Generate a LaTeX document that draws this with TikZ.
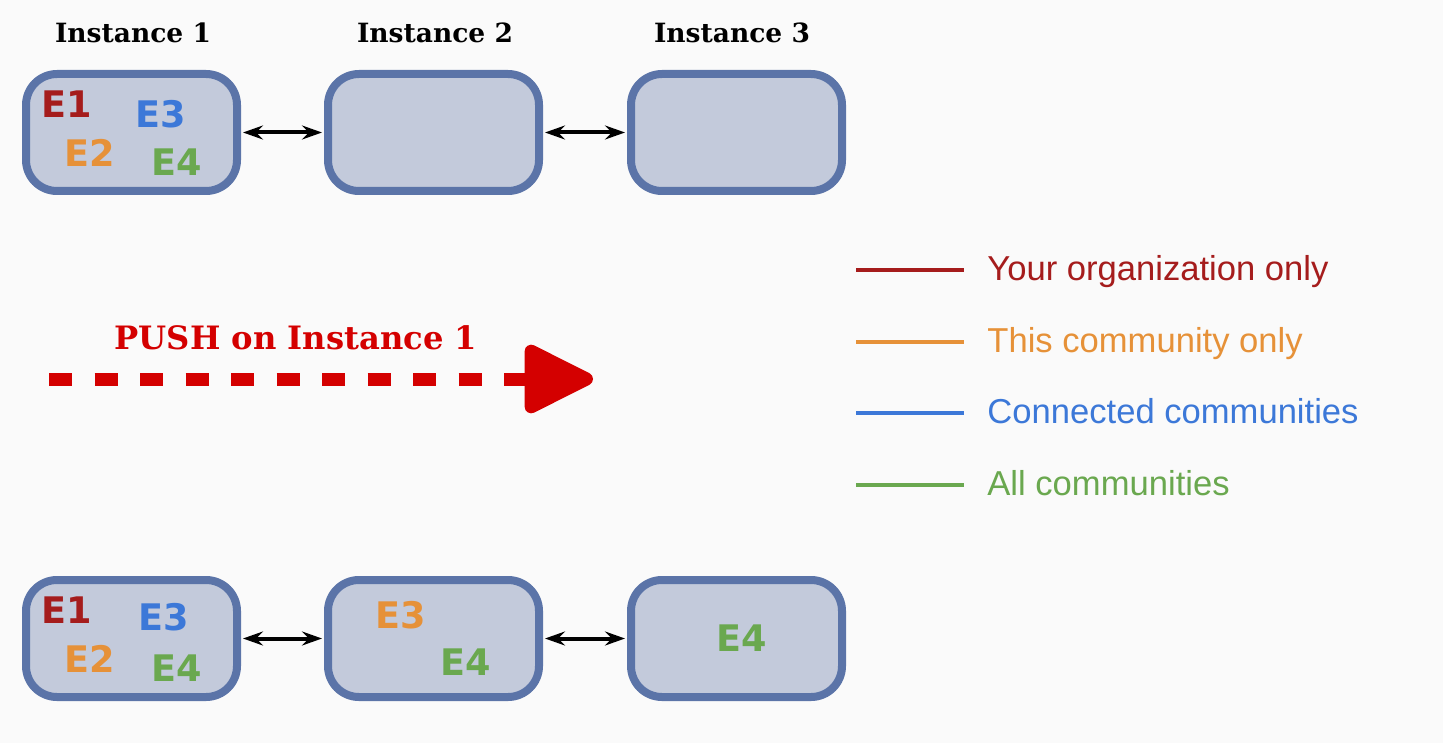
\documentclass[tikz,border=0pt]{standalone}
\usepackage{fontspec}
\usepackage{tikz}
\usetikzlibrary{arrows.meta}
\newfontfamily\titleserif{DejaVu Serif}
\newfontfamily\entsans{DejaVu Sans}
\newfontfamily\legendsans{Liberation Sans}
\definecolor{boxfill}{HTML}{C3CADB}
\definecolor{boxline}{HTML}{5B74A8}
\definecolor{eorg}{HTML}{A51C1C}
\definecolor{ecomm}{HTML}{E69138}
\definecolor{econn}{HTML}{3C78D8}
\definecolor{eall}{HTML}{6AA84F}
\definecolor{pushred}{HTML}{D40000}
\definecolor{bgcol}{HTML}{FAFAFA}

\begin{document}
\begin{tikzpicture}[x=0.5pt,y=-0.5pt,
  inst/.style={draw=boxline,fill=boxfill,line width=4pt,rounded corners=15.5pt,
    minimum width=105.5pt,minimum height=58.5pt,inner sep=0pt},
  insttitle/.style={font=\titleserif\bfseries\fontsize{13.25}{16}\selectfont},
  ent/.style={font=\entsans\bfseries\fontsize{18.3}{20}\selectfont,inner sep=0pt},
  link/.style={line width=2pt,{Stealth[length=10pt,width=7pt,inset=3.5pt]}-{Stealth[length=10pt,width=7pt,inset=3.5pt]},
    shorten >=1pt,shorten <=1pt},
  pushline/.style={draw=pushred,line width=6.5pt,dash pattern=on 11.5pt off 11.25pt,
    -{Triangle[length=38.5pt,width=36.5pt,round]}},
  legline/.style={line width=2pt},
  legtext/.style={font=\legendsans\fontsize{17.3}{20}\selectfont,anchor=base west,inner sep=0pt}]
\path[use as bounding box,fill=bgcol] (0,0) rectangle (1443,743);

\node[insttitle] (t1) at (133,33) {Instance 1};
\node[insttitle] (t2) at (435,33) {Instance 2};
\node[insttitle] (t3) at (732,33) {Instance 3};

\node[inst] (i1a) at (131.5,132.5) {};
\node[inst] (i2a) at (433.5,132.5) {};
\node[inst] (i3a) at (736.5,132.5) {};
\draw[link] (i1a) -- (i2a);
\draw[link] (i2a) -- (i3a);

\node[ent,text=eorg] (e1a) at (67,104) {E1};
\node[ent,text=econn] (e3a) at (161,114) {E3};
\node[ent,text=ecomm] (e2a) at (90,153) {E2};
\node[ent,text=eall] (e4a) at (177,162) {E4};

\node[font=\titleserif\bfseries\fontsize{16.1}{19}\selectfont,text=pushred] (push) at (296,338) {PUSH on Instance 1};
\coordinate (pushstart) at (49,379);
\coordinate (pushend) at (593,379);
\draw[pushline] (pushstart) -- (pushend);

\node[inst] (i1b) at (131.5,638.5) {};
\node[inst] (i2b) at (433.5,638.5) {};
\node[inst] (i3b) at (736.5,638.5) {};
\draw[link] (i1b) -- (i2b);
\draw[link] (i2b) -- (i3b);

\node[ent,text=eorg] (e1b) at (67,610) {E1};
\node[ent,text=econn] (e3b) at (164,617) {E3};
\node[ent,text=ecomm] (e2b) at (90,659) {E2};
\node[ent,text=eall] (e4b) at (177,668) {E4};
\node[ent,text=ecomm] (e3c) at (401,615) {E3};
\node[ent,text=eall] (e4c) at (466,662) {E4};
\node[ent,text=eall] (e4d) at (742,638) {E4};

\foreach \ly/\col/\txt in {270/eorg/Your organization only,342/ecomm/This community only,
    413/econn/Connected communities,485/eall/All communities}{
  \draw[legline,draw=\col] (856,\ly) -- (964,\ly);
  \node[legtext,text=\col] at (987,\ly+10.5) {\txt};
}
\end{tikzpicture}
\end{document}
